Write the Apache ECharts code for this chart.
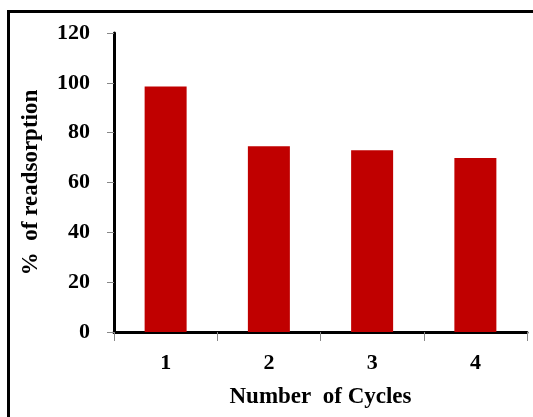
<!DOCTYPE html>
<html>
<head>
<meta charset="utf-8">
<script src="https://cdn.jsdelivr.net/npm/echarts@6/dist/echarts.min.js"></script>
<style>
html,body{margin:0;padding:0;background:#fff;}
#chart{width:533px;height:417px;position:absolute;left:0;top:0;}
#frame{position:absolute;left:7px;top:10px;width:700px;height:600px;border-top:3px solid #000;border-left:3px solid #000;pointer-events:none;}
</style>
</head>
<body>
<div id="chart"></div>
<div id="frame"></div>
<script>
const categories = ['1', '2', '3', '4'];
const readsorption = [98.5, 74.5, 72.9, 69.8];
const yTicks = { min: 0, max: 120, interval: 20 };
const xTitle = 'Number  of Cycles';
const yTitle = '%  of readsorption';

const font = 'Liberation Serif, Times New Roman, serif';
const chart = echarts.init(document.getElementById('chart'), null, {renderer: 'canvas'});
chart.setOption({
  animation: false,
  backgroundColor: '#fff',
  grid: { left: 114, right: 6, top: 33, bottom: 85 },
  xAxis: {
    type: 'category',
    data: categories,
    name: xTitle,
    nameLocation: 'middle',
    nameGap: 54,
    nameTextStyle: { fontFamily: font, fontWeight: 'bold', fontSize: 23, color: '#000' },
    axisLine: { lineStyle: { color: '#000', width: 3 } },
    axisTick: { show: true, length: 9, lineStyle: { color: '#888', width: 1 } },
    axisLabel: { fontFamily: font, fontWeight: 'bold', fontSize: 22, color: '#000', margin: 20 }
  },
  yAxis: {
    type: 'value',
    min: yTicks.min, max: yTicks.max, interval: yTicks.interval,
    name: yTitle,
    nameLocation: 'middle',
    nameGap: 71,
    nameTextStyle: { fontFamily: font, fontWeight: 'bold', fontSize: 23, color: '#000' },
    axisLine: { show: true, lineStyle: { color: '#000', width: 3 } },
    axisTick: { show: true, length: 7, lineStyle: { color: '#888', width: 1 } },
    splitLine: { show: false },
    axisLabel: { fontFamily: font, fontWeight: 'bold', fontSize: 22, color: '#000', margin: 24 }
  },
  series: [{
    type: 'bar',
    data: readsorption,
    barWidth: 42,
    itemStyle: { color: '#C00000' }
  }]
});
</script>
</body>
</html>
